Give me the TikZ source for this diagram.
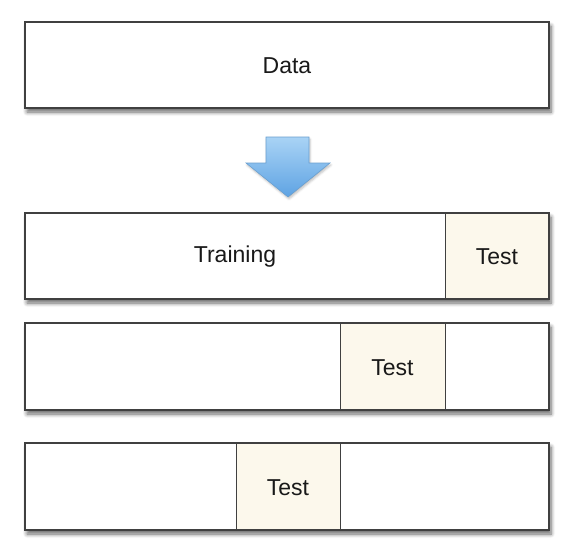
\documentclass[tikz,border=0pt]{standalone}
\usepackage{fontspec}
\setmainfont{Liberation Sans}
\usetikzlibrary{shadows.blur,positioning}
\definecolor{cream}{HTML}{FCF8EC}
\definecolor{arrowtop}{HTML}{A9D3F5}
\definecolor{arrowbot}{HTML}{5EA3E3}
\definecolor{arrowline}{HTML}{6A9FCF}
\begin{document}
\begin{tikzpicture}[x=1pt,y=-1pt,
  box/.style={draw=black!75,line width=1.4pt,fill=white,blur shadow={shadow xshift=2pt,shadow yshift=-4pt,shadow blur steps=6,shadow blur radius=4pt,shadow opacity=60}},
  cell/.style={draw=black!75,line width=1pt,fill=cream},
  lbl/.style={font=\fontsize{23}{27}\selectfont,text=black!90}]
\useasboundingbox (0,0) rectangle (574,547);
% Data box
\path[box] (25,22) rectangle (549,108);
\node[lbl] (data) at (287,66) {Data};
% Arrow
\shade[top color=arrowtop,bottom color=arrowbot,draw=arrowline,line width=0.6pt,
  blur shadow={shadow xshift=1pt,shadow yshift=-2pt,shadow opacity=25}]
  (266,137) -- (309,137) -- (309,163) -- (330,163) -- (288,197) -- (246,163) -- (266,163) -- cycle;
% Row 1
\path[box] (25,213) rectangle (549,299);
\path[cell] (445,213) rectangle (549,299);
\draw[draw=black!75,line width=1.4pt] (25,213) rectangle (549,299);
\node[lbl] (train) at (235,257) {Training};
\node[lbl] (t1) at (497,257) {Test};
% Row 2
\path[box] (25,323) rectangle (549,410);
\path[cell] (340,323) rectangle (445,410);
\draw[draw=black!75,line width=1.4pt] (25,323) rectangle (549,410);
\node[lbl] (t2) at (392.5,368) {Test};
% Row 3
\path[box] (25,443) rectangle (549,530);
\path[cell] (236,443) rectangle (340,530);
\draw[draw=black!75,line width=1.4pt] (25,443) rectangle (549,530);
\node[lbl] (t3) at (288,488) {Test};
\end{tikzpicture}
\end{document}
